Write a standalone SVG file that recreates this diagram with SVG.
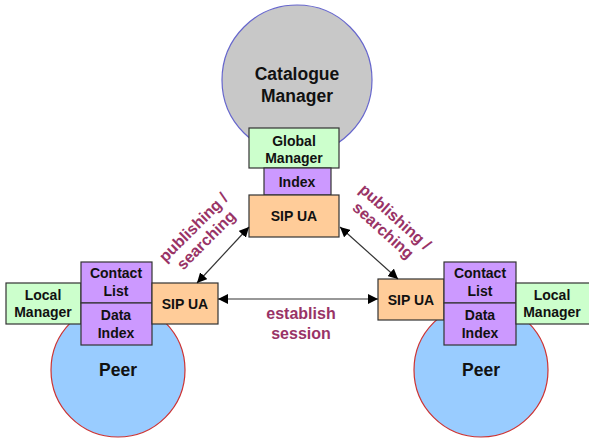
<svg xmlns="http://www.w3.org/2000/svg" width="589" height="438" viewBox="0 0 589 438">
<style>
text{font-family:"Liberation Sans",Arial,sans-serif;font-weight:bold;text-anchor:middle;fill:#111}
.b{font-size:14px}
.big{font-size:17.5px}
.lab{font-size:16px;fill:#993366}
.g{fill:#ccffcc;stroke:#333;stroke-width:1.2}
.p{fill:#cc99ff;stroke:#333;stroke-width:1.2}
.o{fill:#ffcc99;stroke:#333;stroke-width:1.2}
.c{stroke:#333;stroke-width:1.2;fill:none;marker-start:url(#ah);marker-end:url(#ah)}
</style>
<defs>
<marker id="ah" viewBox="0 0 10 10" refX="10" refY="5" markerWidth="10" markerHeight="10" markerUnits="userSpaceOnUse" orient="auto-start-reverse">
<path d="M0,0 L10,5 L0,10 z" fill="#000"/>
</marker>
</defs>
<rect width="589" height="438" fill="#fff"/>
<g id="catalogue">
<circle cx="297" cy="80" r="75" fill="#c8c8c8" stroke="#6666cc" stroke-width="1.2"/>
<text class="big" x="297" y="80">Catalogue</text>
<text class="big" x="297" y="102">Manager</text>
</g>
<g id="global-manager">
<rect class="g" x="249" y="128" width="90" height="40"/>
<text class="b" x="294" y="146">Global</text>
<text class="b" x="294" y="163">Manager</text>
</g>
<g id="index">
<rect class="p" x="264" y="168" width="67" height="27"/>
<text class="b" x="297" y="187">Index</text>
</g>
<g id="sip-top">
<rect class="o" x="249" y="195" width="90" height="42"/>
<text class="b" x="294" y="221">SIP UA</text>
</g>
<g id="peer-left">
<circle cx="118" cy="370" r="67" fill="#99ccff" stroke="#cc3333" stroke-width="1.2"/>
<text class="big" x="118" y="376">Peer</text>
</g>
<g id="local-left">
<rect class="g" x="6" y="283" width="75" height="41"/>
<text class="b" x="43" y="300">Local</text>
<text class="b" x="43" y="317">Manager</text>
</g>
<g id="contact-left">
<rect class="p" x="81" y="262" width="71" height="41"/>
<text class="b" x="116" y="278">Contact</text>
<text class="b" x="116" y="296">List</text>
</g>
<g id="data-left">
<rect class="p" x="81" y="303" width="71" height="42"/>
<text class="b" x="116" y="320">Data</text>
<text class="b" x="116" y="338">Index</text>
</g>
<g id="sip-left">
<rect class="o" x="152" y="283" width="66" height="41"/>
<text class="b" x="185" y="309">SIP UA</text>
</g>
<g id="peer-right">
<circle cx="481" cy="370" r="67" fill="#99ccff" stroke="#cc3333" stroke-width="1.2"/>
<text class="big" x="481" y="376">Peer</text>
</g>
<g id="sip-right">
<rect class="o" x="378" y="279" width="66" height="41"/>
<text class="b" x="411" y="305">SIP UA</text>
</g>
<g id="contact-right">
<rect class="p" x="444" y="262" width="72" height="41"/>
<text class="b" x="480" y="278">Contact</text>
<text class="b" x="480" y="296">List</text>
</g>
<g id="data-right">
<rect class="p" x="444" y="303" width="72" height="42"/>
<text class="b" x="480" y="320">Data</text>
<text class="b" x="480" y="338">Index</text>
</g>
<g id="local-right">
<rect class="g" x="516" y="283" width="75" height="41"/>
<text class="b" x="552" y="300">Local</text>
<text class="b" x="552" y="317">Manager</text>
</g>
<g id="connectors">
<line class="c" x1="197" y1="283" x2="249" y2="227"/>
<line class="c" x1="340" y1="227" x2="398" y2="279"/>
<line class="c" x1="218" y1="299" x2="378" y2="299"/>
</g>
<g id="labels">
<g transform="translate(200,234) rotate(-45)">
<text class="lab" x="0" y="-4">publishing /</text>
<text class="lab" x="0" y="14">searching</text>
</g>
<g transform="translate(389,224) rotate(42)">
<text class="lab" x="0" y="-4">publishing /</text>
<text class="lab" x="0" y="14">searching</text>
</g>
<text class="lab" x="301" y="319">establish</text>
<text class="lab" x="301" y="339">session</text>
</g>
</svg>
